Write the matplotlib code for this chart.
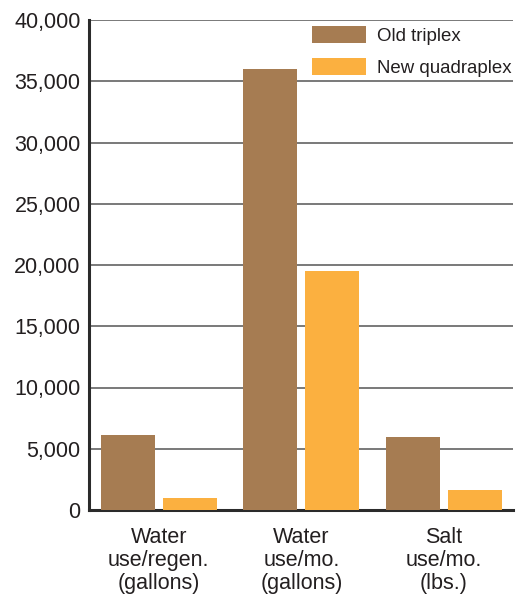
import numpy as np
import matplotlib.pyplot as plt

plt.rcParams['font.family'] = ['Liberation Sans', 'DejaVu Sans']

categories = ["Water\nuse/regen.\n(gallons)", "Water\nuse/mo.\n(gallons)", "Salt\nuse/mo.\n(lbs.)"]
old_triplex = [6100, 36000, 6000]
new_quadraplex = [950, 19500, 1600]
yticks = [0, 5000, 10000, 15000, 20000, 25000, 30000, 35000, 40000]

brown = '#a67c52'
orange = '#fbb040'
text_col = '#231f20'

fig = plt.figure(figsize=(5.25, 5.94), dpi=100)
ax = fig.add_axes([89 / 525, 84 / 594, 424 / 525, 490 / 594])

x = np.arange(len(categories))
w = 0.379
gap = 0.056
ax.bar(x - (w + gap) / 2, old_triplex, w, color=brown, label='Old triplex', zorder=3)
ax.bar(x + (w + gap) / 2, new_quadraplex, w, color=orange, label='New quadraplex', zorder=3)

ax.set_xlim(-0.49, 2.485)
ax.set_ylim(0, 40000)
ax.set_yticks(yticks)
ax.set_yticklabels([f"{v:,}" for v in yticks])
ax.set_xticks(x)
ax.set_xticklabels(categories, linespacing=1.15)

for v in yticks[1:]:
    ax.axhline(v, color='#555555', lw=1.1, zorder=1)

for s in ['top', 'right']:
    ax.spines[s].set_visible(False)
for s in ['left', 'bottom']:
    ax.spines[s].set_linewidth(2.2)
    ax.spines[s].set_color('#2b2b2b')

ax.tick_params(axis='y', length=0, pad=6, labelsize=15.5, labelcolor=text_col)
ax.tick_params(axis='x', length=0, pad=12, labelsize=15.5, labelcolor=text_col)

leg = ax.legend(loc='upper right', bbox_to_anchor=(512 / 525, 1 - 26 / 594),
                bbox_transform=fig.transFigure, frameon=False,
                fontsize=13.4, handlelength=2.9, handleheight=1.05,
                handletextpad=0.6, labelspacing=0.7, borderaxespad=0, borderpad=0)
for t in leg.get_texts():
    t.set_color(text_col)

fig.savefig('out.png', dpi=100)
